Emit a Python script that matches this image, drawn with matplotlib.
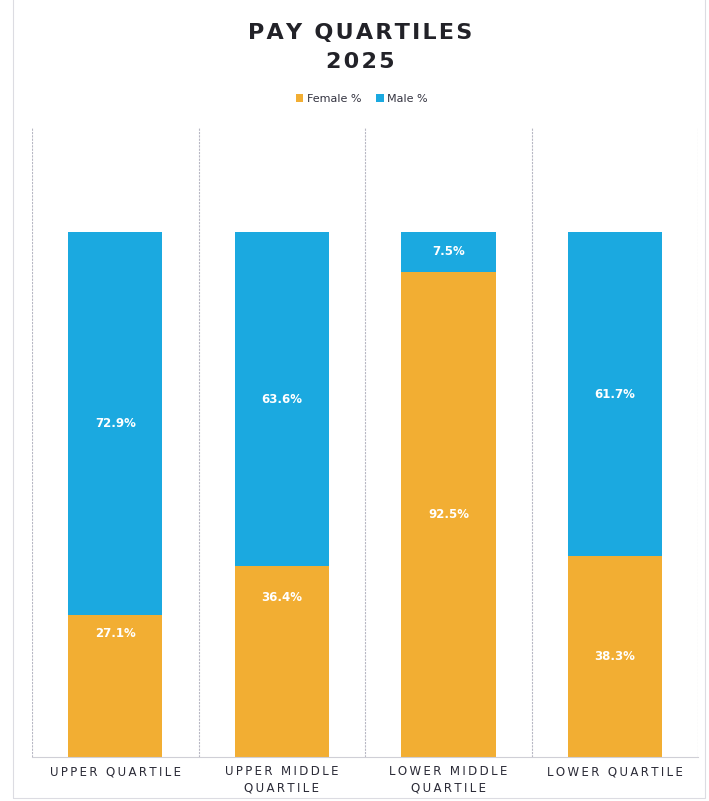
import numpy as np
import matplotlib.pyplot as plt
from matplotlib.patches import Rectangle

# ------------------ Data ------------------
categories = ["UPPER QUARTILE", "UPPER MIDDLE\nQUARTILE", "LOWER MIDDLE\nQUARTILE", "LOWER QUARTILE"]
female_pct = [27.1, 36.4, 92.5, 38.3]
male_pct = [72.9, 63.6, 7.5, 61.7]

FEMALE_COLOR = "#F2AE33"
MALE_COLOR = "#1BA9E0"


def spaced(s, gap="\u200a"):
    # mimic the wide letter spacing of the original font
    return "\n".join(gap.join(line) for line in s.split("\n"))


fig = plt.figure(figsize=(7.09, 8.01), dpi=100)
ax = fig.add_axes([0.045, 0.055, 0.94, 0.786])

x = np.arange(len(categories))
width = 0.565

# Stacked columns: female at the bottom, male on top
fb = ax.bar(x, female_pct, width, color=FEMALE_COLOR, label="Female %")
mb = ax.bar(x, male_pct, width, bottom=female_pct, color=MALE_COLOR, label="Male %")

# White value labels inside each segment
f_lbls = ax.bar_label(fb, labels=[f"{v:.1f}%" for v in female_pct], label_type="center",
                      color="white", fontsize=8.5, fontweight="bold")
ax.bar_label(mb, labels=[f"{v:.1f}%" for v in male_pct], label_type="center",
             color="white", fontsize=8.5, fontweight="bold")
# the two short female labels sit higher up in the original
for ann, shift in zip(f_lbls, [38, 46, 0, 0]):
    ann.xyann = (0, shift)

ax.set_xlim(-0.5, len(categories) - 0.5)
ax.set_ylim(0, 120)
ax.set_yticks([])

# Vertical gridlines on the category boundaries
for b in np.arange(len(categories) + 1) - 0.5:
    ax.axvline(b, color="#b8b8c4", lw=0.8, ls=(0, (2, 1)), zorder=0)

for side in ["top", "left", "right"]:
    ax.spines[side].set_visible(False)
ax.spines["bottom"].set_color("#cfcfd6")
ax.spines["bottom"].set_linewidth(0.8)

ax.set_xticks(x)
ax.set_xticklabels([spaced(c, "\u2009") for c in categories], fontsize=8.5,
                   color="#2a2a36", linespacing=1.3)
ax.tick_params(axis="x", length=0, pad=6)

# Title and legend
fig.text(0.508, 0.959, spaced("PAY QUARTILES"), ha="center", va="center",
         fontsize=16, fontweight="bold", color="#222228")
fig.text(0.508, 0.922, spaced("2025"), ha="center", va="center",
         fontsize=16, fontweight="bold", color="#222228")
fig.legend(handles=[fb, mb], labels=["Female %", "Male %"], loc="center",
           bbox_to_anchor=(0.51, 0.877), ncol=2,
           frameon=False, fontsize=8, handlelength=0.7, handleheight=0.7,
           handletextpad=0.3, columnspacing=1.3, labelcolor="#333340")

# Faint outer chart border
fig.patches.append(Rectangle((0.019, 0.004), 0.975, 1.2, transform=fig.transFigure,
                             fill=False, edgecolor="#dcdce2", lw=0.8))

fig.savefig("out.png", dpi=100)
